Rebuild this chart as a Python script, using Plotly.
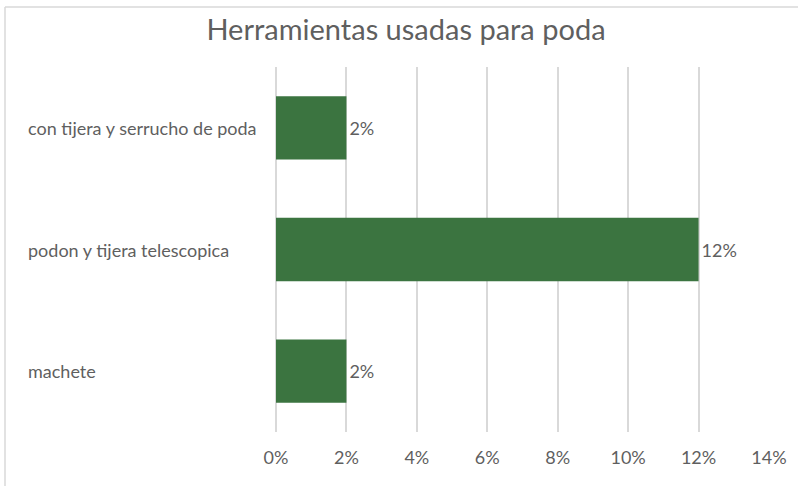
import plotly.graph_objects as go

# Pruning tools survey: share of respondents per tool combination
categories = ["machete", "podon y tijera telescopica", "con tijera y serrucho de poda"]
values = [0.02, 0.12, 0.02]
tick_vals = [0, 0.02, 0.04, 0.06, 0.08, 0.10, 0.12, 0.14]
tick_text = ["0%", "2%", "4%", "6%", "8%", "10%", "12%", "14%"]

W, H = 798, 486
ML, MR, MT, MB = 276, 29, 67, 54
PW = W - ML - MR
PH = H - MT - MB

FONT = "Lato"
GREY = "#5f5f5f"
FS = 18

fig = go.Figure(
    go.Bar(
        y=categories,
        x=values,
        orientation="h",
        marker=dict(color="#3b7440", line=dict(width=0)),
        text=[f"{v:.0%}" for v in values],
        textposition="outside",
        textfont=dict(family=FONT, size=FS, color=GREY),
        outsidetextfont=dict(family=FONT, size=FS, color=GREY),
        cliponaxis=False,
        width=0.52,
    )
)

# Category labels, left aligned as in the original layout
for c in categories:
    fig.add_annotation(
        x=(26 - ML) / PW, xref="paper", y=c, yref="y",
        text=c, showarrow=False, xanchor="left", yanchor="middle",
        font=dict(family=FONT, size=FS, color=GREY),
    )

# Chart frame (top and left edges)
fig.add_shape(type="line", xref="paper", yref="paper",
              x0=(5 - ML) / PW, x1=(W - ML) / PW + 0.01,
              y0=1 + (MT - 7) / PH, y1=1 + (MT - 7) / PH,
              line=dict(color="#d9d9d9", width=1.5))
fig.add_shape(type="line", xref="paper", yref="paper",
              x0=(5 - ML) / PW, x1=(5 - ML) / PW,
              y0=1 + (MT - 7) / PH, y1=-MB / PH - 0.01,
              line=dict(color="#d9d9d9", width=1.5))

fig.update_layout(
    width=W, height=H,
    margin=dict(l=ML, r=MR, t=MT, b=MB),
    paper_bgcolor="white", plot_bgcolor="white",
    showlegend=False,
    title=dict(
        text="Herramientas usadas para poda",
        x=406 / W, xanchor="center", y=1 - 30 / H, yanchor="middle",
        font=dict(family=FONT, size=29, color=GREY),
    ),
    xaxis=dict(
        range=[0, 0.14], tickvals=tick_vals, ticktext=tick_text,
        showgrid=True, gridcolor="#d9d9d9", gridwidth=1.5,
        zeroline=True, zerolinecolor="#d9d9d9", zerolinewidth=1.5,
        showline=False, ticks="", ticklen=0, ticklabelstandoff=13,
        tickfont=dict(family=FONT, size=FS, color=GREY),
    ),
    yaxis=dict(
        showticklabels=False, showgrid=False, zeroline=False, showline=False,
        categoryorder="array", categoryarray=categories,
    ),
    bargap=0.48,
)

fig.write_html("out.html")
